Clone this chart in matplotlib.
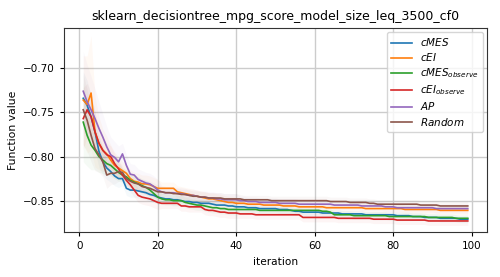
import matplotlib
matplotlib.use("Agg")
import matplotlib.pyplot as plt
import numpy as np

iterations = list(range(1, 100))

labels = ["$cMES$", "$cEI$", "$cMES_{observe}$", "$cEI_{observe}$", "$AP$", "$Random$"]
colors = ["#1f77b4", "#ff7f0e", "#2ca02c", "#d62728", "#9467bd", "#8c564b"]

cmes = [-0.734, -0.742, -0.755, -0.772, -0.794, -0.806, -0.813, -0.817, -0.822, -0.825,
        -0.825, -0.836, -0.838, -0.838, -0.839, -0.840, -0.841, -0.843, -0.844, -0.846,
        -0.847, -0.848, -0.848, -0.849, -0.849, -0.850, -0.851, -0.851, -0.852, -0.852,
        -0.853, -0.853, -0.853, -0.854, -0.855, -0.855, -0.855, -0.856, -0.856, -0.857,
        -0.857, -0.857, -0.858, -0.858, -0.858, -0.859, -0.859, -0.859, -0.859, -0.859,
        -0.860, -0.860, -0.860, -0.861, -0.862, -0.862, -0.863, -0.863, -0.863, -0.863,
        -0.863, -0.864, -0.864, -0.864, -0.864, -0.864, -0.865, -0.865, -0.865, -0.865,
        -0.865, -0.865, -0.866, -0.866, -0.866, -0.866, -0.866, -0.866, -0.866, -0.866,
        -0.867, -0.867, -0.867, -0.867, -0.868, -0.868, -0.868, -0.869, -0.869, -0.869,
        -0.869, -0.870, -0.870, -0.870, -0.870, -0.870, -0.871, -0.871, -0.871]

cei = [-0.736, -0.741, -0.728, -0.772, -0.785, -0.793, -0.797, -0.804, -0.810, -0.813,
       -0.816, -0.819, -0.825, -0.828, -0.829, -0.831, -0.831, -0.832, -0.834, -0.836,
       -0.836, -0.836, -0.836, -0.836, -0.840, -0.841, -0.842, -0.843, -0.844, -0.845,
       -0.846, -0.847, -0.848, -0.848, -0.849, -0.850, -0.851, -0.852, -0.852, -0.853,
       -0.853, -0.853, -0.854, -0.854, -0.854, -0.854, -0.855, -0.855, -0.855, -0.855,
       -0.855, -0.856, -0.856, -0.856, -0.856, -0.857, -0.857, -0.857, -0.857, -0.857,
       -0.857, -0.857, -0.858, -0.858, -0.858, -0.858, -0.858, -0.858, -0.858, -0.858,
       -0.858, -0.858, -0.859, -0.859, -0.859, -0.859, -0.859, -0.859, -0.859, -0.859,
       -0.859, -0.859, -0.860, -0.860, -0.860, -0.860, -0.860, -0.860, -0.860, -0.860,
       -0.860, -0.861, -0.861, -0.861, -0.861, -0.861, -0.861, -0.861, -0.861]

cmes_obs = [-0.761, -0.776, -0.787, -0.793, -0.800, -0.804, -0.808, -0.810, -0.814, -0.818,
            -0.821, -0.823, -0.827, -0.829, -0.831, -0.833, -0.835, -0.838, -0.842, -0.846,
            -0.848, -0.849, -0.849, -0.850, -0.850, -0.850, -0.852, -0.853, -0.854, -0.855,
            -0.855, -0.856, -0.857, -0.858, -0.858, -0.859, -0.859, -0.860, -0.860, -0.860,
            -0.860, -0.860, -0.860, -0.860, -0.860, -0.861, -0.861, -0.861, -0.861, -0.861,
            -0.861, -0.861, -0.861, -0.861, -0.861, -0.861, -0.861, -0.861, -0.861, -0.861,
            -0.861, -0.862, -0.862, -0.863, -0.866, -0.866, -0.866, -0.866, -0.866, -0.867,
            -0.867, -0.867, -0.867, -0.867, -0.867, -0.867, -0.867, -0.867, -0.868, -0.868,
            -0.868, -0.868, -0.868, -0.868, -0.868, -0.868, -0.868, -0.868, -0.869, -0.869,
            -0.869, -0.869, -0.869, -0.869, -0.869, -0.870, -0.870, -0.870, -0.870]

cei_obs = [-0.757, -0.747, -0.755, -0.772, -0.785, -0.793, -0.798, -0.800, -0.808, -0.814,
           -0.821, -0.827, -0.832, -0.838, -0.844, -0.846, -0.847, -0.848, -0.850, -0.852,
           -0.853, -0.853, -0.853, -0.853, -0.853, -0.856, -0.856, -0.857, -0.857, -0.857,
           -0.857, -0.860, -0.861, -0.861, -0.862, -0.863, -0.863, -0.864, -0.864, -0.864,
           -0.865, -0.865, -0.865, -0.865, -0.866, -0.866, -0.866, -0.866, -0.866, -0.866,
           -0.866, -0.866, -0.866, -0.866, -0.866, -0.866, -0.869, -0.869, -0.869, -0.869,
           -0.869, -0.869, -0.869, -0.869, -0.869, -0.870, -0.870, -0.870, -0.870, -0.870,
           -0.870, -0.870, -0.870, -0.870, -0.871, -0.871, -0.871, -0.871, -0.871, -0.871,
           -0.872, -0.872, -0.872, -0.872, -0.872, -0.872, -0.872, -0.872, -0.873, -0.873,
           -0.873, -0.873, -0.873, -0.873, -0.873, -0.873, -0.873, -0.873, -0.873]

ap = [-0.726, -0.738, -0.747, -0.757, -0.768, -0.778, -0.789, -0.798, -0.801, -0.806,
      -0.797, -0.810, -0.820, -0.821, -0.826, -0.828, -0.830, -0.831, -0.834, -0.838,
      -0.840, -0.841, -0.841, -0.841, -0.842, -0.842, -0.843, -0.844, -0.844, -0.845,
      -0.846, -0.846, -0.847, -0.847, -0.848, -0.848, -0.849, -0.849, -0.849, -0.849,
      -0.850, -0.850, -0.851, -0.851, -0.851, -0.852, -0.852, -0.852, -0.852, -0.852,
      -0.853, -0.853, -0.853, -0.853, -0.853, -0.854, -0.854, -0.854, -0.854, -0.854,
      -0.854, -0.854, -0.854, -0.854, -0.855, -0.855, -0.855, -0.855, -0.855, -0.855,
      -0.855, -0.856, -0.856, -0.856, -0.856, -0.856, -0.856, -0.857, -0.857, -0.857,
      -0.858, -0.858, -0.858, -0.858, -0.858, -0.858, -0.858, -0.858, -0.858, -0.858,
      -0.859, -0.859, -0.859, -0.859, -0.859, -0.859, -0.859, -0.859, -0.859]

random_ = [-0.747, -0.759, -0.776, -0.791, -0.798, -0.806, -0.821, -0.819, -0.819, -0.817,
           -0.818, -0.825, -0.828, -0.830, -0.831, -0.834, -0.835, -0.836, -0.838, -0.840,
           -0.840, -0.841, -0.841, -0.842, -0.842, -0.843, -0.843, -0.844, -0.845, -0.845,
           -0.846, -0.846, -0.847, -0.847, -0.847, -0.847, -0.848, -0.848, -0.848, -0.848,
           -0.848, -0.849, -0.849, -0.849, -0.849, -0.849, -0.849, -0.849, -0.850, -0.850,
           -0.850, -0.850, -0.850, -0.850, -0.850, -0.850, -0.850, -0.850, -0.850, -0.850,
           -0.850, -0.850, -0.850, -0.851, -0.851, -0.851, -0.851, -0.851, -0.852, -0.852,
           -0.852, -0.852, -0.852, -0.853, -0.853, -0.854, -0.854, -0.854, -0.854, -0.854,
           -0.854, -0.854, -0.854, -0.854, -0.854, -0.854, -0.855, -0.855, -0.855, -0.855,
           -0.855, -0.856, -0.856, -0.856, -0.856, -0.856, -0.856, -0.856, -0.856]

# spread (standard error) of each series
std_cmes = [0.030, 0.028, 0.025, 0.022, 0.018, 0.015, 0.013, 0.012, 0.011, 0.010] + [0.008] * 10 + [0.006] * 20 + [0.004] * 59
std_cei = [0.050, 0.055, 0.065, 0.040, 0.030, 0.024, 0.020, 0.017, 0.015, 0.013] + [0.010] * 10 + [0.007] * 20 + [0.005] * 59
std_cmes_obs = [0.045, 0.035, 0.028, 0.022, 0.018, 0.015, 0.013, 0.012, 0.011, 0.010] + [0.008] * 10 + [0.006] * 20 + [0.004] * 59
std_cei_obs = [0.035, 0.030, 0.026, 0.022, 0.018, 0.015, 0.013, 0.012, 0.011, 0.010] + [0.008] * 10 + [0.006] * 20 + [0.005] * 59
std_ap = [0.045, 0.042, 0.038, 0.034, 0.030, 0.026, 0.023, 0.020, 0.018, 0.018] + [0.012] * 10 + [0.007] * 20 + [0.005] * 59
std_random = [0.040, 0.035, 0.030, 0.025, 0.020, 0.017, 0.015, 0.013, 0.012, 0.011] + [0.008] * 10 + [0.006] * 20 + [0.005] * 59

series = [cmes, cei, cmes_obs, cei_obs, ap, random_]
spreads = [std_cmes, std_cei, std_cmes_obs, std_cei_obs, std_ap, std_random]

fig = plt.figure(figsize=(5.0, 2.77), dpi=100)
ax = fig.add_axes([0.128, 0.1625, 0.846, 0.7365])

for y, s, lab, c in zip(series, spreads, labels, colors):
    y = np.array(y)
    s = np.array(s)
    ax.fill_between(iterations, y - s, y + s, color=c, alpha=0.045, linewidth=0)
    ax.plot(iterations, y, color=c, label=lab, linewidth=1.2)

ax.set_ylim(-0.8855, -0.6543)
ax.set_xticks([0, 20, 40, 60, 80, 100])
ax.set_yticks([-0.70, -0.75, -0.80, -0.85])
ax.grid(True, color="#cccccc", linewidth=1.0)
ax.set_axisbelow(True)
ax.tick_params(labelsize=7.5, length=3)
ax.set_xlabel("iteration", fontsize=7.6)
ax.set_ylabel("Function value", fontsize=7.8)
ax.set_title("sklearn_decisiontree_mpg_score_model_size_leq_3500_cf0", fontsize=9)
for sp in ax.spines.values():
    sp.set_color("#333333")
ax.legend(loc="upper right", fontsize=7.5, handlelength=2.0, labelspacing=0.3,
          borderaxespad=0.4, framealpha=0.8)

fig.savefig("out.png", dpi=100)
